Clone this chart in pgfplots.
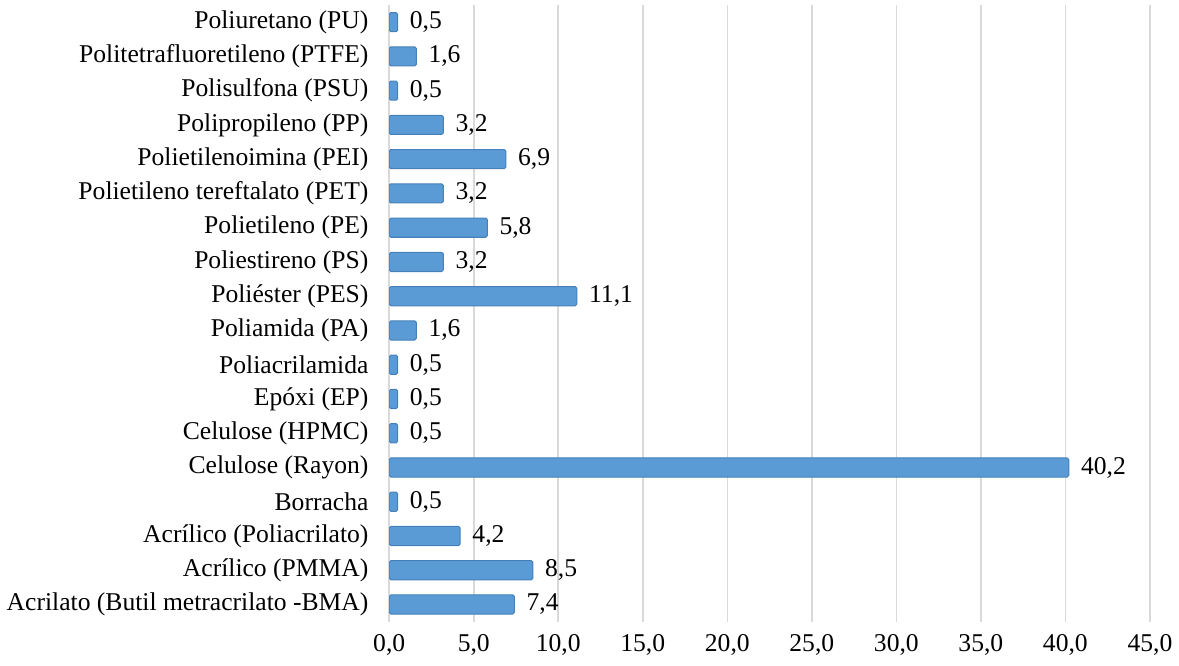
\documentclass[border=0pt]{standalone}
\usepackage{pgfplots}
\pgfplotsset{compat=1.18}
\usepackage{fontspec}
\setmainfont{Liberation Serif}
\definecolor{barfill}{RGB}{91,155,213}
\definecolor{baredge}{RGB}{70,128,185}
\definecolor{gridc}{RGB}{217,217,217}
\begin{document}
\begin{tikzpicture}
\begin{axis}[
  name=ax,
  xbar,
  scale only axis,
  width=377.5pt, height=306pt,
  xmin=0, xmax=45,
  ymin=-0.5, ymax=17.5,
  xtick={0,5,...,45},
  ytick={0,...,17},
  yticklabels={Acrilato (Butil metracrilato -BMA),Acrílico (PMMA),Acrílico (Poliacrilato),Borracha,Celulose (Rayon),Celulose (HPMC),Epóxi (EP),Poliacrilamida,Poliamida (PA),Poliéster (PES),Poliestireno (PS),Polietileno (PE),Polietileno tereftalato (PET),Polietilenoimina (PEI),Polipropileno (PP),Polisulfona (PSU),Politetrafluoretileno (PTFE),Poliuretano (PU)},
  axis line style={draw=none},
  major tick length=0pt,
  xmajorgrids,
  grid style={gridc, line width=0.8pt},
  bar width=9.5pt,
  font=\fontsize{12.7pt}{15pt}\selectfont,
  ticklabel style={font=\fontsize{12.7pt}{15pt}\selectfont},
  yticklabel style={xshift=-6.8pt},
  xticklabel style={yshift=-2.7pt},
  xticklabel={\pgfmathprintnumber[fixed,fixed zerofill,precision=1,use comma,assume math mode=true]{\tick}},
  nodes near coords,
  nodes near coords style={anchor=west, xshift=2.5pt, font=\fontsize{12.7pt}{15pt}\selectfont,
    /pgf/number format/.cd, fixed, fixed zerofill, precision=1, use comma, assume math mode=true},
]
\addplot[fill=barfill, draw=baredge, line width=0.5pt, rounded corners=0.8pt] coordinates {
(7.4,0) (8.5,1) (4.2,2) (0.5,3) (40.2,4) (0.5,5) (0.5,6) (0.5,7) (1.6,8) (11.1,9)
(3.2,10) (5.8,11) (3.2,12) (6.9,13) (3.2,14) (0.5,15) (1.6,16) (0.5,17)
};
\end{axis}
\path ([yshift=2.5pt]ax.north) ([yshift=-22pt]ax.south);
\end{tikzpicture}
\end{document}
